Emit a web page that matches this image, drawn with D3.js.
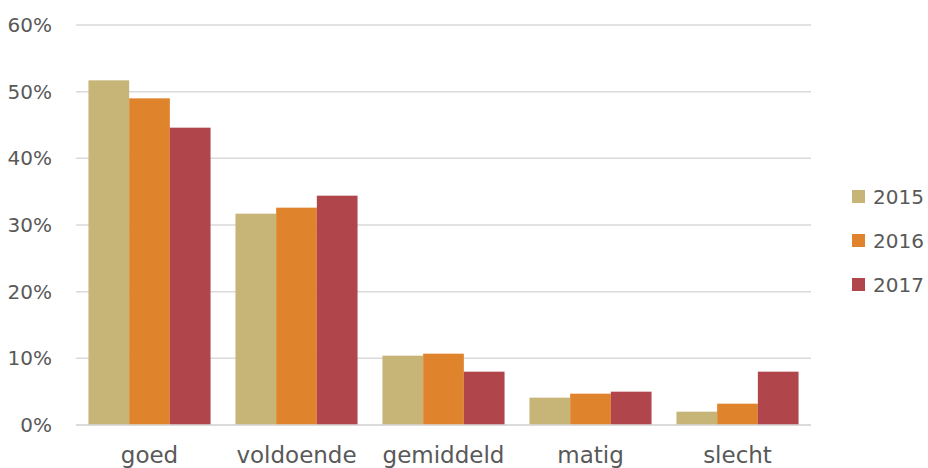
<!DOCTYPE html>
<html>
<head>
<meta charset="utf-8">
<script src="https://cdn.jsdelivr.net/npm/d3@7"></script>
<style>
  html, body { margin: 0; padding: 0; background: #fff; }
  svg { display: block; }
  text { font-family: "Century Gothic", "DejaVu Sans", sans-serif; fill: #595959; }
</style>
</head>
<body>
<svg id="chart" width="928" height="468"></svg>
<script>
const categories = ["goed", "voldoende", "gemiddeld", "matig", "slecht"];
const years = ["2015", "2016", "2017"];
const values2015 = [51.7, 31.7, 10.4, 4.1, 2.0];
const values2016 = [49.0, 32.6, 10.7, 4.7, 3.2];
const values2017 = [44.6, 34.4, 8.0, 5.0, 8.0];
const yTicks = [0, 10, 20, 30, 40, 50, 60];
const colors = ["#C6B577", "#E0832D", "#B0454B"];

const series = [values2015, values2016, values2017];
const svg = d3.select("#chart");
const mLeft = 76, mRight = 811, mTop = 25, mBottom = 425;

const x0 = d3.scaleBand().domain(categories).range([mLeft, mRight]).paddingInner(0).paddingOuter(0);
const x1 = d3.scaleBand().domain(years).range([0, x0.bandwidth()]).paddingInner(0).paddingOuter(0.306);
const y = d3.scaleLinear().domain([0, 60]).range([mBottom, mTop]);
const color = d3.scaleOrdinal().domain(years).range(colors);

// gridlines
svg.append("g").selectAll("line").data(yTicks).join("line")
  .attr("x1", mLeft).attr("x2", mRight)
  .attr("y1", d => y(d)).attr("y2", d => y(d))
  .attr("stroke", "#D9D9D9").attr("stroke-width", 1.5);

// y axis labels
const yAxis = d3.axisLeft(y).tickValues(yTicks).tickFormat(d => d + "%").tickSize(0).tickPadding(0);
const yg = svg.append("g").attr("transform", `translate(${52},0)`).call(yAxis);
yg.select(".domain").remove();
yg.selectAll("text").attr("font-size", 20).attr("fill", "#595959")
  .style("font-family", '"Century Gothic", "DejaVu Sans", sans-serif');

// bars
const groups = svg.append("g").selectAll("g").data(categories).join("g")
  .attr("transform", d => `translate(${x0(d)},0)`);
groups.selectAll("rect")
  .data((d, i) => years.map((yr, j) => ({ yr, v: series[j][i] })))
  .join("rect")
  .attr("x", d => x1(d.yr))
  .attr("width", x1.bandwidth())
  .attr("y", d => y(d.v))
  .attr("height", d => y(0) - y(d.v))
  .attr("fill", d => color(d.yr));

// baseline
svg.append("line").attr("x1", mLeft).attr("x2", mRight).attr("y1", y(0)).attr("y2", y(0))
  .attr("stroke", "#D9D9D9").attr("stroke-width", 1.5);

// x axis labels
const xAxis = d3.axisBottom(x0).tickSize(0).tickPadding(0);
const xg = svg.append("g").attr("transform", `translate(0,${mBottom + 22})`).call(xAxis);
xg.select(".domain").remove();
xg.selectAll("text").attr("font-size", 23).attr("fill", "#595959")
  .style("font-family", '"Century Gothic", "DejaVu Sans", sans-serif');

// legend
const legend = svg.append("g").selectAll("g").data(years).join("g")
  .attr("transform", (d, i) => `translate(852,${196.5 + i * 44})`);
legend.append("rect").attr("x", 0).attr("y", -6.5).attr("width", 13).attr("height", 13)
  .attr("fill", d => color(d));
legend.append("text").attr("x", 21).attr("y", 0).attr("dy", "0.36em")
  .attr("font-size", 20).text(d => d);
</script>
</body>
</html>
